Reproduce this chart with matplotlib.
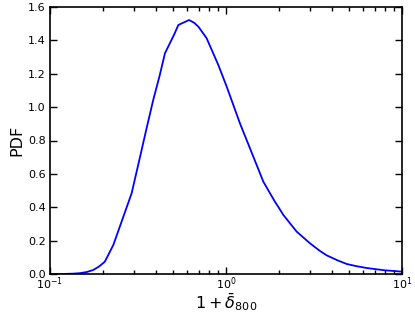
import matplotlib
matplotlib.use("Agg")
import matplotlib.pyplot as plt
import numpy as np

x_vals = [0.1, 0.12, 0.135, 0.148, 0.162, 0.176, 0.19, 0.205, 0.229, 0.261, 0.291, 0.325, 0.355, 0.386, 0.42,
          0.45, 0.48, 0.51, 0.536, 0.572, 0.617, 0.66, 0.697, 0.776, 0.904, 1.009, 1.2, 1.43, 1.63, 1.897,
          1.98, 2.117, 2.52, 3.0, 3.42, 3.73, 4.3, 4.85, 5.5, 6.3, 7.2, 8.0, 9.0, 10.0]
pdf_vals = [0.0, 0.0005, 0.002, 0.005, 0.012, 0.024, 0.045, 0.074, 0.174, 0.343, 0.484, 0.703, 0.88, 1.043, 1.19,
            1.323, 1.383, 1.44, 1.492, 1.506, 1.522, 1.505, 1.482, 1.413, 1.253, 1.123, 0.903, 0.703, 0.553, 0.433,
            0.403, 0.354, 0.254, 0.184, 0.138, 0.112, 0.082, 0.06, 0.047, 0.036, 0.028, 0.022, 0.018, 0.014]

fig = plt.figure(figsize=(4.15, 3.12), dpi=100)
ax = fig.add_axes([50/415, 38/312, 352/415, 267/312])
ax.plot(x_vals, pdf_vals, color='#0000ff', lw=1.3)
ax.set_xscale('log')
ax.set_xlim(0.1, 10)
ax.set_ylim(0, 1.6)
ax.set_yticks(np.arange(0, 1.61, 0.2))
ax.tick_params(which='both', direction='in', top=True, right=True, labelsize=8)
ax.tick_params(axis='x', pad=1)
ax.tick_params(axis='y', pad=3)
ax.tick_params(which='major', length=5, width=1)
ax.tick_params(which='minor', length=3, width=1)
for s in ax.spines.values():
    s.set_linewidth(1.2)
ax.set_xlabel(r'$1+\bar{\delta}_{800}$', fontsize=11.5, va='center')
ax.xaxis.set_label_coords(0.5, -0.106)
ax.set_ylabel('PDF', fontsize=11.5, va='center')
ax.yaxis.set_label_coords(-0.093, 0.5)
fig.savefig('out.png', dpi=100)
